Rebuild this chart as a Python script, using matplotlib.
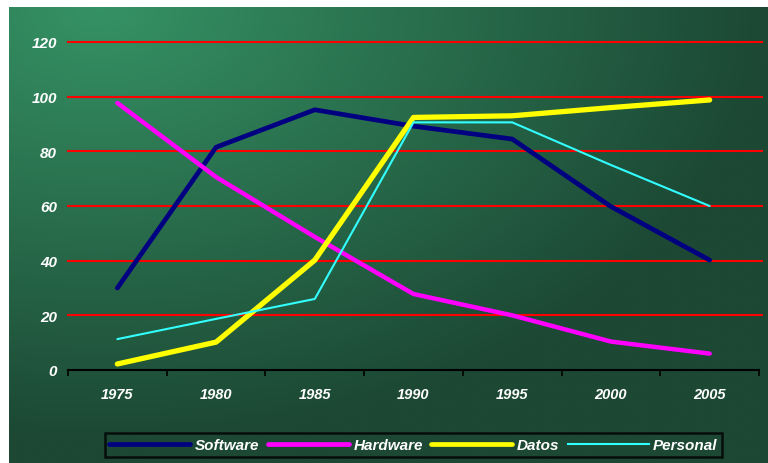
import numpy as np
import matplotlib
matplotlib.use("Agg")
import matplotlib.pyplot as plt
from matplotlib.lines import Line2D

years = ["1975", "1980", "1985", "1990", "1995", "2000", "2005"]
software = [30, 81.5, 95.2, 89.2, 84.5, 59.8, 40.2]
hardware = [97.7, 70.6, 48.7, 27.8, 20.0, 10.4, 6.0]
datos = [2.2, 10.2, 40.2, 92.4, 93.0, 96.0, 98.8]
personal = [11.3, 18.7, 26.0, 90.6, 90.6, 75.0, 60.0]
yticks = [0, 20, 40, 60, 80, 100, 120]

W, H = 768, 464
fig = plt.figure(figsize=(W / 100, H / 100), dpi=100)
fig.patch.set_facecolor("white")

# gradient background
bg = fig.add_axes([9 / W, 0, 1 - 9 / W, 1 - 8 / H])
bg.set_axis_off()
nx, ny = 400, 240
xx, yy = np.meshgrid(np.linspace(0, 1, nx), np.linspace(0, 1, ny))
t = np.clip(np.sqrt(((xx - 0.12) / 0.88) ** 2 + (yy / 0.95) ** 2), 0, 1)
light = np.array([53, 146, 100]) / 255
dark = np.array([28, 72, 52]) / 255
img = light[None, None, :] * (1 - t[..., None]) + dark[None, None, :] * t[..., None]
bg.imshow(img, aspect="auto", extent=[0, 1, 1, 0], interpolation="bilinear")
bg.set_xlim(0, 1)
bg.set_ylim(1, 0)

left, right = 68 / W, 759 / W
bottom, top = 1 - 371 / H, 1 - 43 / H
ax = fig.add_axes([left, bottom, right - left, top - bottom])
ax.patch.set_alpha(0)

x = np.arange(len(years))
ax.set_xlim(-0.5, len(years) - 0.5)
ax.set_ylim(0, 120)

for v in yticks[1:]:
    ax.axhline(v, color="#ff0000", lw=1.5, zorder=1, xmax=1.004, clip_on=False)

ax.plot(x, software, color="#000080", lw=3.4, solid_capstyle="round", solid_joinstyle="round", zorder=3, label="Software")
ax.plot(x, hardware, color="#ff00ff", lw=3.2, solid_capstyle="round", solid_joinstyle="round", zorder=3, label="Hardware")
ax.plot(x, datos, color="#ffff00", lw=3.8, solid_capstyle="round", solid_joinstyle="round", zorder=4, label="Datos")
ax.plot(x, personal, color="#33ffff", lw=1.5, solid_capstyle="round", zorder=4, label="Personal")

for s in ["top", "right", "left"]:
    ax.spines[s].set_visible(False)
ax.spines["bottom"].set_color("black")
ax.spines["bottom"].set_linewidth(1.5)
ax.spines["bottom"].set_zorder(5)

yfont = dict(family="Liberation Sans", weight="bold", style="italic", size=11, color="white")
xfont = dict(family="Liberation Sans", weight="bold", style="italic", size=10.5, color="white")
ax.set_xticks(x)
ax.set_xticklabels(years, **xfont)
ax.set_xticks(np.arange(len(years) + 1) - 0.5, minor=True)
ax.tick_params(axis="x", which="major", length=0, pad=12)
ax.tick_params(axis="x", which="minor", length=4, width=1.2, color="black", direction="out")
ax.set_yticks(yticks)
ax.set_yticklabels([str(v) for v in yticks], **yfont)
ax.tick_params(axis="y", length=0, pad=8)

handles = [
    Line2D([], [], color="#000080", lw=3.4, solid_capstyle="round"),
    Line2D([], [], color="#ff00ff", lw=3.4, solid_capstyle="round"),
    Line2D([], [], color="#ffff00", lw=3.4, solid_capstyle="round"),
    Line2D([], [], color="#33ffff", lw=1.5),
]
leg = fig.legend(handles, ["Software", "Hardware", "Datos", "Personal"], loc="center",
                 bbox_to_anchor=(413.5 / W, 1 - 446 / H), ncol=4, frameon=True,
                 prop=dict(family="Liberation Sans", weight="bold", style="italic", size=11),
                 handlelength=5.3, handletextpad=0.3, columnspacing=0.55,
                 borderpad=0.3, fancybox=False, labelcolor="white")
leg.get_frame().set_facecolor("none")
leg.get_frame().set_edgecolor("black")
leg.get_frame().set_linewidth(1.8)

fig.savefig("out.png", dpi=100)
